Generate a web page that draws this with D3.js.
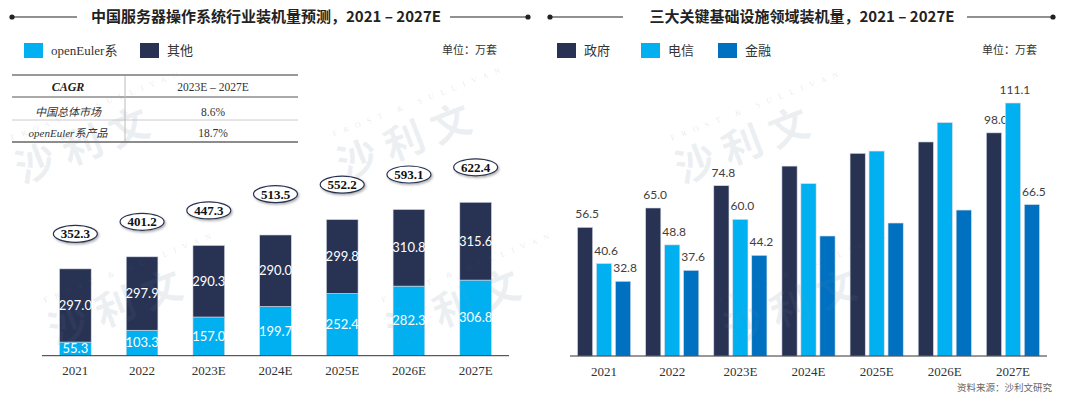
<!DOCTYPE html>
<html lang="zh">
<head>
<meta charset="UTF-8">
<title>服务器操作系统装机量</title>
<script src="https://d3js.org/d3.v7.min.js"></script>
<style>
    body { margin: 0; background: #fff; }
    svg text { font-family: "Liberation Serif", "Noto Sans CJK SC", serif; }
    .cjk { font-family: "Noto Sans CJK SC", sans-serif !important; }
    .num { font-family: Lato, "Open Sans", sans-serif !important; }
</style>
</head>
<body>
<svg id="chart" width="1080" height="396"></svg>
<script>
// 左图数据
var years = ["2021", "2022", "2023E", "2024E", "2025E", "2026E", "2027E"];
var openEuler = [55.3, 103.3, 157.0, 199.7, 252.4, 282.3, 306.8];
var others = [297.0, 297.9, 290.3, 290.0, 299.8, 310.8, 315.6];
var totals = [352.3, 401.2, 447.3, 513.5, 552.2, 593.1, 622.4];
var cagrHeader = ["CAGR", "2023E – 2027E"];
var cagrRows = [["中国总体市场", "8.6%"], ["openEuler系产品", "18.7%"]];

// 右图数据 (未标注的数值按柱高估计)
var sectors = ["政府", "电信", "金融"];
var gov = [56.5, 65.0, 74.8, 83.4, 89.0, 94.0, 98.0];
var telecom = [40.6, 48.8, 60.0, 75.7, 90.0, 102.5, 111.1];
var finance = [32.8, 37.6, 44.2, 52.7, 58.4, 64.1, 66.5];
// 图上显示数值标签的柱 (null 表示不标)
var govLabels = ["56.5", "65.0", "74.8", null, null, null, "98.0"];
var telecomLabels = ["40.6", "48.8", "60.0", null, null, null, "111.1"];
var financeLabels = ["32.8", "37.6", "44.2", null, null, null, "66.5"];

var cLight = "#00b0f0", cDark = "#283253", cMid = "#0070c0";

var svg = d3.select("#chart");

var defs = svg.append("defs");
var f = defs.append("filter").attr("id", "shadow").attr("x", "-20%").attr("y", "-30%").attr("width", "150%").attr("height", "180%");
f.append("feDropShadow").attr("dx", 1.2).attr("dy", 1.5).attr("stdDeviation", 0.8).attr("flood-color", "#777").attr("flood-opacity", 0.6);

// 水印 (放在底层, 柱子上方另加一层极淡的)
var marks = [[22, 184], [344, 180], [682, 184], [55, 346], [393, 346], [730, 346]];
function watermark(op) {
    var wm = svg.append("g").attr("pointer-events", "none");
    marks.forEach(function (m) {
        var g = wm.append("g").attr("transform", "translate(" + m[0] + "," + m[1] + ") rotate(-21)");
        g.append("text").attr("class", "cjk").attr("x", 0).attr("y", 0).attr("font-size", 40).attr("font-weight", 700)
            .attr("letter-spacing", 10).attr("fill", "#9aa8bd").attr("fill-opacity", op).text("沙利文");
        g.append("text").attr("x", 6).attr("y", -44).attr("font-size", 8).attr("letter-spacing", 7)
            .attr("fill", "#9aa8bd").attr("fill-opacity", op * 1.5).text("FROST & SULLIVAN");
    });
}
watermark(0.12);

// 标题
function title(l1, l2, r1, r2, tx, text) {
    var g = svg.append("g");
    g.append("line").attr("x1", l1).attr("x2", l2).attr("y1", 17).attr("y2", 17).attr("stroke", "#222").attr("stroke-width", 1);
    g.append("line").attr("x1", r1).attr("x2", r2).attr("y1", 17).attr("y2", 17).attr("stroke", "#222").attr("stroke-width", 1);
    g.append("circle").attr("cx", l1).attr("cy", 17).attr("r", 2.6).attr("fill", "#222");
    g.append("circle").attr("cx", r2).attr("cy", 17).attr("r", 2.6).attr("fill", "#222");
    g.append("text").attr("class", "cjk").attr("x", tx).attr("y", 22)
        .attr("text-anchor", "middle").attr("font-size", 15).attr("font-weight", 700).attr("fill", "#222")
        .text(text);
}
title(12, 77, 450, 528, 266, "中国服务器操作系统行业装机量预测，2021 – 2027E");
title(550, 623, 967, 1053, 802, "三大关键基础设施领域装机量，2021 – 2027E");

// 图例
function legend(items, x0) {
    items.forEach(function (d, i) {
        var x = x0[i];
        svg.append("rect").attr("x", x).attr("y", 43).attr("width", 19).attr("height", 15).attr("fill", d.color);
        svg.append("text").attr("class", d.cls).attr("x", x + 27).attr("y", 55)
            .attr("font-size", 13).attr("fill", "#333").text(d.name);
    });
}
legend([{name: "openEuler系", color: cLight, cls: ""}, {name: "其他", color: cDark, cls: "cjk"}], [24, 140]);
legend([{name: "政府", color: cDark, cls: "cjk"}, {name: "电信", color: cLight, cls: "cjk"}, {name: "金融", color: cMid, cls: "cjk"}], [557, 641, 718]);
svg.append("text").attr("class", "cjk").attr("x", 497).attr("y", 54).attr("text-anchor", "end").attr("font-size", 11).attr("fill", "#333").text("单位：万套");
svg.append("text").attr("class", "cjk").attr("x", 1037).attr("y", 54).attr("text-anchor", "end").attr("font-size", 11).attr("fill", "#333").text("单位：万套");

// CAGR 表
var tb = svg.append("g");
tb.append("line").attr("x1", 12).attr("x2", 298).attr("y1", 75).attr("y2", 75).attr("stroke", "#999").attr("stroke-width", 2);
tb.append("line").attr("x1", 12).attr("x2", 298).attr("y1", 97).attr("y2", 97).attr("stroke", "#555").attr("stroke-width", 1);
tb.append("line").attr("x1", 12).attr("x2", 298).attr("y1", 120).attr("y2", 120).attr("stroke", "#ccc").attr("stroke-width", 1);
tb.append("line").attr("x1", 12).attr("x2", 298).attr("y1", 142).attr("y2", 142).attr("stroke", "#666").attr("stroke-width", 1.5);
tb.append("line").attr("x1", 125).attr("x2", 125).attr("y1", 76).attr("y2", 141).attr("stroke", "#bbb").attr("stroke-width", 1);
tb.append("text").attr("x", 68).attr("y", 91).attr("text-anchor", "middle").attr("font-size", 12)
    .attr("font-weight", 700).attr("font-style", "italic").attr("fill", "#222").text(cagrHeader[0]);
tb.append("text").attr("x", 213).attr("y", 91).attr("text-anchor", "middle").attr("font-size", 11.5).attr("fill", "#333").text(cagrHeader[1]);
cagrRows.forEach(function (r, i) {
    var y = 116 + i * 21;
    tb.append("text").attr("x", 68).attr("y", y).attr("text-anchor", "middle").attr("font-size", 11)
        .attr("font-style", "italic").attr("fill", "#333").text(r[0]);
    tb.append("text").attr("x", 213).attr("y", y).attr("text-anchor", "middle").attr("font-size", 11.5).attr("fill", "#333").text(r[1]);
});

// 左图: 堆积柱
var xL = d3.scaleBand().domain(years).range([42, 509]).paddingInner(0.525).paddingOuter(0.2625);
var yL = d3.scaleLinear().domain([0, 700]).range([355.7, 183.15]);

var stackData = years.map(function (y, i) { return {year: y, openEuler: openEuler[i], others: others[i], total: totals[i]}; });
var series = d3.stack().keys(["openEuler", "others"])(stackData);
var colorsL = {openEuler: cLight, others: cDark};

var gL = svg.append("g");
series.forEach(function (s) {
    gL.selectAll(null).data(s).enter().append("rect")
        .attr("x", function (d) { return xL(d.data.year); })
        .attr("y", function (d) { return yL(d[1]); })
        .attr("width", xL.bandwidth())
        .attr("height", function (d) { return yL(d[0]) - yL(d[1]); })
        .attr("fill", colorsL[s.key])
        .attr("stroke", "#d6dbe6").attr("stroke-width", 0.6);
    gL.selectAll(null).data(s).enter().append("text")
        .attr("class", "num")
        .attr("x", function (d) { return xL(d.data.year) + xL.bandwidth() / 2; })
        .attr("y", function (d) { return (yL(d[0]) + yL(d[1])) / 2 + 4.5; })
        .attr("text-anchor", "middle").attr("font-size", 13).attr("fill", "#fff")
        .text(function (d) { return d.data[s.key].toFixed(1); });
});

// 总量椭圆
var ov = gL.selectAll(".ov").data(stackData).enter().append("g").attr("class", "ov")
    .attr("transform", function (d) { return "translate(" + (xL(d.year) + xL.bandwidth() / 2) + "," + (yL(d.total) - 35) + ")"; });
ov.append("ellipse").attr("rx", 22).attr("ry", 8.5).attr("fill", "#fff").attr("stroke", "#283253").attr("stroke-width", 1.2).attr("filter", "url(#shadow)");
ov.append("text").attr("y", 4.5).attr("text-anchor", "middle").attr("font-size", 13).attr("font-weight", 700).attr("fill", "#111")
    .text(function (d) { return d.total.toFixed(1); });

gL.append("line").attr("x1", 42).attr("x2", 509).attr("y1", 355.7).attr("y2", 355.7).attr("stroke", "#333").attr("stroke-width", 1);
gL.selectAll(".xl").data(years).enter().append("text")
    .attr("x", function (d) { return xL(d) + xL.bandwidth() / 2; }).attr("y", 375)
    .attr("text-anchor", "middle").attr("font-size", 13).attr("fill", "#333").text(function (d) { return d; });

// 右图: 分组柱
var xR = d3.scaleBand().domain(years).range([570, 1047]).paddingInner(0.22).paddingOuter(0.11);
var xSub = d3.scaleBand().domain(sectors).range([0, xR.bandwidth()]).paddingInner(0.2);
var yR = d3.scaleLinear().domain([0, 120]).range([356, 82.76]);
var valuesR = {"政府": gov, "电信": telecom, "金融": finance};
var labelsR = {"政府": govLabels, "电信": telecomLabels, "金融": financeLabels};
var colorsR = {"政府": cDark, "电信": cLight, "金融": cMid};

var gR = svg.append("g");
sectors.forEach(function (s) {
    var d = years.map(function (y, i) { return {year: y, v: valuesR[s][i], label: labelsR[s][i]}; });
    gR.selectAll(null).data(d).enter().append("rect")
        .attr("x", function (e) { return xR(e.year) + xSub(s); })
        .attr("y", function (e) { return yR(e.v); })
        .attr("width", xSub.bandwidth())
        .attr("height", function (e) { return yR(0) - yR(e.v); })
        .attr("fill", colorsR[s])
        .attr("stroke", "#d6dbe6").attr("stroke-width", 0.6);
    gR.selectAll(null).data(d.filter(function (e) { return e.label; })).enter().append("text")
        .attr("class", "num")
        .attr("x", function (e) { return xR(e.year) + xSub(s) + xSub.bandwidth() / 2 + 2; })
        .attr("y", function (e) { return yR(e.v) - 9; })
        .attr("text-anchor", "middle").attr("font-size", 12).attr("fill", "#404040")
        .text(function (e) { return e.label; });
});
gR.append("line").attr("x1", 570).attr("x2", 1047).attr("y1", 356).attr("y2", 356).attr("stroke", "#333").attr("stroke-width", 1);
gR.selectAll(".xr").data(years).enter().append("text")
    .attr("x", function (d) { return xR(d) + xR.bandwidth() / 2; }).attr("y", 376)
    .attr("text-anchor", "middle").attr("font-size", 13).attr("fill", "#333").text(function (d) { return d; });

svg.append("text").attr("class", "cjk").attr("x", 1052).attr("y", 391).attr("text-anchor", "end")
    .attr("font-size", 9.5).attr("fill", "#666").text("资料来源：沙利文研究");

// 柱子上的水印 (很淡)
watermark(0.06);
</script>
</body>
</html>
